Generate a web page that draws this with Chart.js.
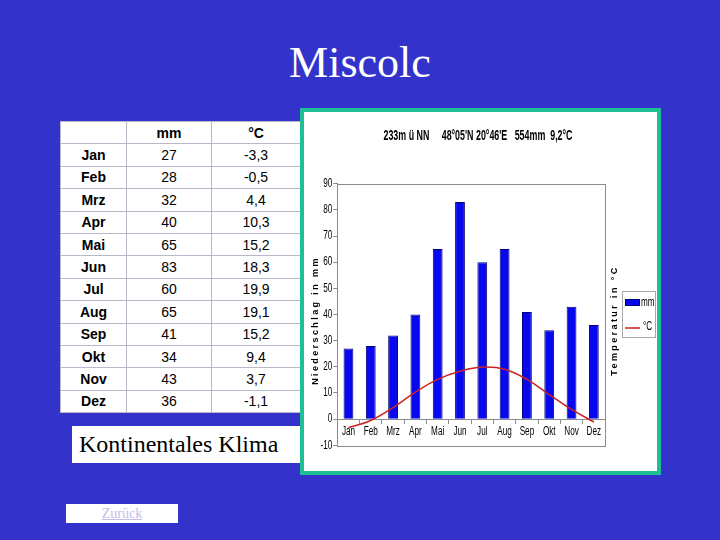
<!DOCTYPE html>
<html>
<head>
<meta charset="utf-8">
<title>Miscolc</title>
<script src="https://cdn.jsdelivr.net/npm/chart.js@4.4.0/dist/chart.umd.min.js"></script>
<style>
    body {
        margin: 0;
        width: 720px;
        height: 540px;
        background: #3333cc;
        overflow: hidden;
        position: relative;
        font-family: "Liberation Serif", "Times New Roman", serif;
    }
    h1 {
        position: absolute;
        left: 0;
        top: 41px;
        width: 720px;
        margin: 0;
        text-align: center;
        color: #fff;
        font-weight: normal;
        font-size: 44px;
        line-height: 44px;
    }
    #climate-table {
        position: absolute;
        left: 60px;
        top: 121px;
        width: 240px;
        border-collapse: collapse;
        table-layout: fixed;
        background: #fff;
        font-family: "Liberation Sans", Arial, sans-serif;
        font-size: 14px;
        color: #000;
    }
    #climate-table td, #climate-table th {
        border: 1px solid #b8b8c8;
        height: 21.4px;
        padding: 0;
        text-align: center;
    }
    #climate-table th { font-weight: bold; }
    #climate-table td.month { font-weight: bold; }
    .klima {
        position: absolute;
        left: 72px;
        top: 426px;
        width: 240px;
        height: 37px;
        background: #fff;
        color: #000;
        font-size: 24px;
        line-height: 37px;
        padding-left: 7px;
        box-sizing: border-box;
    }
    .zurueck {
        position: absolute;
        left: 66px;
        top: 504px;
        width: 112px;
        height: 19px;
        background: #fff;
        text-align: center;
        font-size: 14px;
        line-height: 19px;
    }
    .zurueck a { color: #c4bce8; text-decoration: underline; }
    .frame {
        position: absolute;
        left: 300px;
        top: 108px;
        width: 353px;
        height: 359px;
        border: 4px solid #1fbf96;
        background: #fff;
        z-index: 2;
    }
    .frame canvas { display: block; }
</style>
</head>
<body>
<h1>Miscolc</h1>
<table id="climate-table">
    <colgroup><col style="width:66px"><col style="width:85px"><col style="width:89px"></colgroup>
    <thead><tr><th></th><th>mm</th><th>°C</th></tr></thead>
    <tbody id="climate-body"></tbody>
</table>
<div class="klima">Kontinentales Klima</div>
<div class="zurueck"><a href="#">Zurück</a></div>
<div class="frame"><canvas id="climateChart" width="353" height="359"></canvas></div>

<script>
// Klimadaten Miskolc
const months = ['Jan', 'Feb', 'Mrz', 'Apr', 'Mai', 'Jun', 'Jul', 'Aug', 'Sep', 'Okt', 'Nov', 'Dez'];
const precipitation = [27, 28, 32, 40, 65, 83, 60, 65, 41, 34, 43, 36];
const temperature = [-3.3, -0.5, 4.4, 10.3, 15.2, 18.3, 19.9, 19.1, 15.2, 9.4, 3.7, -1.1];
const yMin = -10;
const yMax = 90;
const yStep = 10;

const chartTitle = "233m ü NN     48°05'N 20°46'E   554mm  9,2°C";
const leftTitle = 'Niederschlag in mm';
const rightTitle = 'Temperatur in °C';

const sans = '"Liberation Sans", Arial, sans-serif';
const squeeze = 0.68; // the original uses a narrow font

// Table
const body = document.getElementById('climate-body');
body.innerHTML = months.map((m, i) => `
    <tr>
        <td class="month">${m}</td>
        <td>${precipitation[i]}</td>
        <td>${temperature[i].toFixed(1).replace('.', ',')}</td>
    </tr>
`).join('');

function narrowText(ctx, text, x, y, align, sx) {
    ctx.save();
    ctx.translate(x, y);
    ctx.scale(sx, 1);
    ctx.textAlign = align;
    ctx.fillText(text, 0, 0);
    ctx.restore();
}

// Title, narrow tick labels, frame, axis titles and legend box
const extrasPlugin = {
    id: 'extras',
    afterDraw(chart) {
        const { ctx, chartArea: a } = chart;
        const xs = chart.scales.x;
        const ys = chart.scales.y;
        ctx.save();

        ctx.strokeStyle = '#8c8c8c';
        ctx.lineWidth = 1;
        ctx.strokeRect(Math.round(a.left) + 0.5, Math.round(a.top) + 0.5,
            Math.round(a.right - a.left), Math.round(a.bottom - a.top));

        ctx.fillStyle = '#000';
        ctx.textBaseline = 'middle';

        // Title
        ctx.font = 'bold 14px ' + sans;
        const tw = ctx.measureText(chartTitle).width;
        narrowText(ctx, chartTitle, 174, 24, 'center', 189 / tw);

        // Tick labels
        ctx.font = '12px ' + sans;
        const zeroY = ys.getPixelForValue(0);
        xs.ticks.forEach((t, i) => {
            narrowText(ctx, xs.getLabelForValue(t.value), xs.getPixelForTick(i), zeroY + 13, 'center', squeeze);
        });
        ys.ticks.forEach(t => {
            narrowText(ctx, String(t.value), a.left - 5, ys.getPixelForValue(t.value), 'right', squeeze);
        });

        // Axis titles
        ctx.font = 'bold 9px ' + sans;
        ctx.letterSpacing = '2.4px';
        ctx.textAlign = 'center';
        const cy = (a.top + a.bottom) / 2 + 6;
        [[12, leftTitle], [311, rightTitle]].forEach(([x, t]) => {
            ctx.save();
            ctx.translate(x, cy);
            ctx.rotate(-Math.PI / 2);
            ctx.fillText(t, 0, 0);
            ctx.restore();
        });
        ctx.letterSpacing = '0px';

        // Legend
        const lx = 318.5, ly = 179.5, lw = 33, lh = 46;
        ctx.fillStyle = '#fff';
        ctx.fillRect(lx, ly, lw, lh);
        ctx.strokeStyle = '#a8a8a8';
        ctx.strokeRect(lx, ly, lw, lh);

        const bars = chart.data.datasets[0];
        const line = chart.data.datasets[1];
        ctx.fillStyle = bars.backgroundColor;
        ctx.fillRect(321, 187, 15, 7);
        ctx.strokeStyle = bars.borderColor;
        ctx.strokeRect(321.5, 187.5, 14, 6);

        ctx.strokeStyle = line.borderColor;
        ctx.lineWidth = 1.5;
        ctx.beginPath();
        ctx.moveTo(321, 216);
        ctx.lineTo(336, 216);
        ctx.stroke();

        ctx.fillStyle = '#000';
        ctx.font = '12px ' + sans;
        narrowText(ctx, bars.label, 337, 191, 'left', squeeze);
        narrowText(ctx, line.label, 339, 215, 'left', squeeze);

        ctx.restore();
    }
};

new Chart(document.getElementById('climateChart'), {
    type: 'bar',
    data: {
        labels: months,
        datasets: [
            {
                type: 'bar',
                label: 'mm',
                data: precipitation,
                backgroundColor: '#0808ee',
                borderColor: '#00007a',
                borderWidth: 1,
                barPercentage: 0.44,
                categoryPercentage: 1,
                order: 2
            },
            {
                type: 'line',
                label: '°C',
                data: temperature,
                borderColor: '#cc2222',
                borderWidth: 1.5,
                tension: 0.4,
                pointRadius: 0,
                fill: false,
                order: 1
            }
        ]
    },
    options: {
        responsive: false,
        animation: false,
        devicePixelRatio: 1,
        layout: { padding: { left: 0, right: 52, top: 71.7, bottom: 25.7 } },
        plugins: {
            legend: { display: false },
            tooltip: { enabled: false },
            title: { display: false }
        },
        scales: {
            x: {
                position: { y: 0 },
                grid: { drawOnChartArea: false, offset: true, tickLength: 4, color: '#8c8c8c' },
                border: { color: '#8c8c8c' },
                ticks: { display: false, autoSkip: false }
            },
            y: {
                min: yMin,
                max: yMax,
                ticks: { stepSize: yStep, display: false },
                grid: { drawOnChartArea: false, tickLength: 4, color: '#8c8c8c' },
                border: { color: '#8c8c8c' },
                afterFit(scale) { scale.width = 33.3; }
            }
        }
    },
    plugins: [extrasPlugin]
});
</script>
</body>
</html>
